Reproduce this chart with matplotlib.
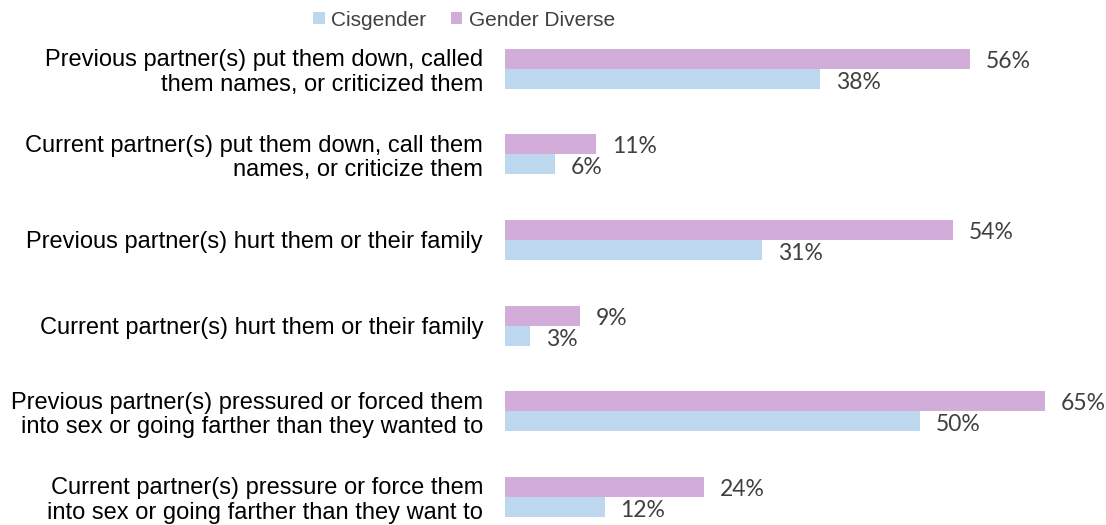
import matplotlib
matplotlib.use("Agg")
import matplotlib.pyplot as plt
import numpy as np

# categories (top to bottom)
categories = [
    "Previous partner(s) put them down, called\nthem names, or criticized them",
    "Current partner(s) put them down, call them\nnames, or criticize them",
    "Previous partner(s) hurt them or their family",
    "Current partner(s) hurt them or their family",
    "Previous partner(s) pressured or forced them\ninto sex or going farther than they wanted to",
    "Current partner(s) pressure or force them\ninto sex or going farther than they want to",
]
cisgender = [38, 6, 31, 3, 50, 12]
gender_diverse = [56, 11, 54, 9, 65, 24]

blue = "#BDD7EE"
purple = "#D3ADD9"

W, H = 1106, 525
fig = plt.figure(figsize=(W / 100, H / 100), dpi=100)

# axes placed in pixels: left 505, top 26, to bottom edge
left, top, right, bottom = 505, 26, 1086, 525
ax = fig.add_axes([left / W, 1 - bottom / H, (right - left) / W, (bottom - top) / H])

step = 85.6  # px between groups
ax.set_ylim(-0.5 + (bottom - top) / step, -0.5)
ax.set_xlim(0, 70)

y = np.arange(len(categories))
h = 20 / step
ax.barh(y - h / 2, gender_diverse, height=h, color=purple, label="Gender Diverse")
ax.barh(y + h / 2, cisgender, height=h, color=blue, label="Cisgender")

val_font = dict(fontsize=16.5, color="#404040", family=["Lato", "DejaVu Sans"], va="center")
for yi, v in zip(y, gender_diverse):
    ax.text(v + 1.9, yi - h / 2 + 0.03, f"{v}%", clip_on=False, **val_font)
for yi, v in zip(y, cisgender):
    ax.text(v + 1.9, yi + h / 2 + 0.04, f"{v}%", clip_on=False, **val_font)

ax.set_yticks(y)
ax.set_yticklabels(categories, fontsize=17, family=["Liberation Sans", "DejaVu Sans"],
                   ha="right", linespacing=1.15)
ax.tick_params(axis="y", length=0, pad=15.8)
ax.set_xticks([])
for s in ax.spines.values():
    s.set_visible(False)

handles, labels = ax.get_legend_handles_labels()
leg = fig.legend(handles[::-1], labels[::-1], loc="center", bbox_to_anchor=(464 / W, 1 - 20 / H),
                 ncol=2, frameon=False, handlelength=0.55, handleheight=0.55, handletextpad=0.3,
                 columnspacing=1.2, borderpad=0, prop={"family": ["Liberation Sans", "DejaVu Sans"], "size": 15})
for t in leg.get_texts():
    t.set_color("#404040")

fig.savefig("out.png", dpi=100)
